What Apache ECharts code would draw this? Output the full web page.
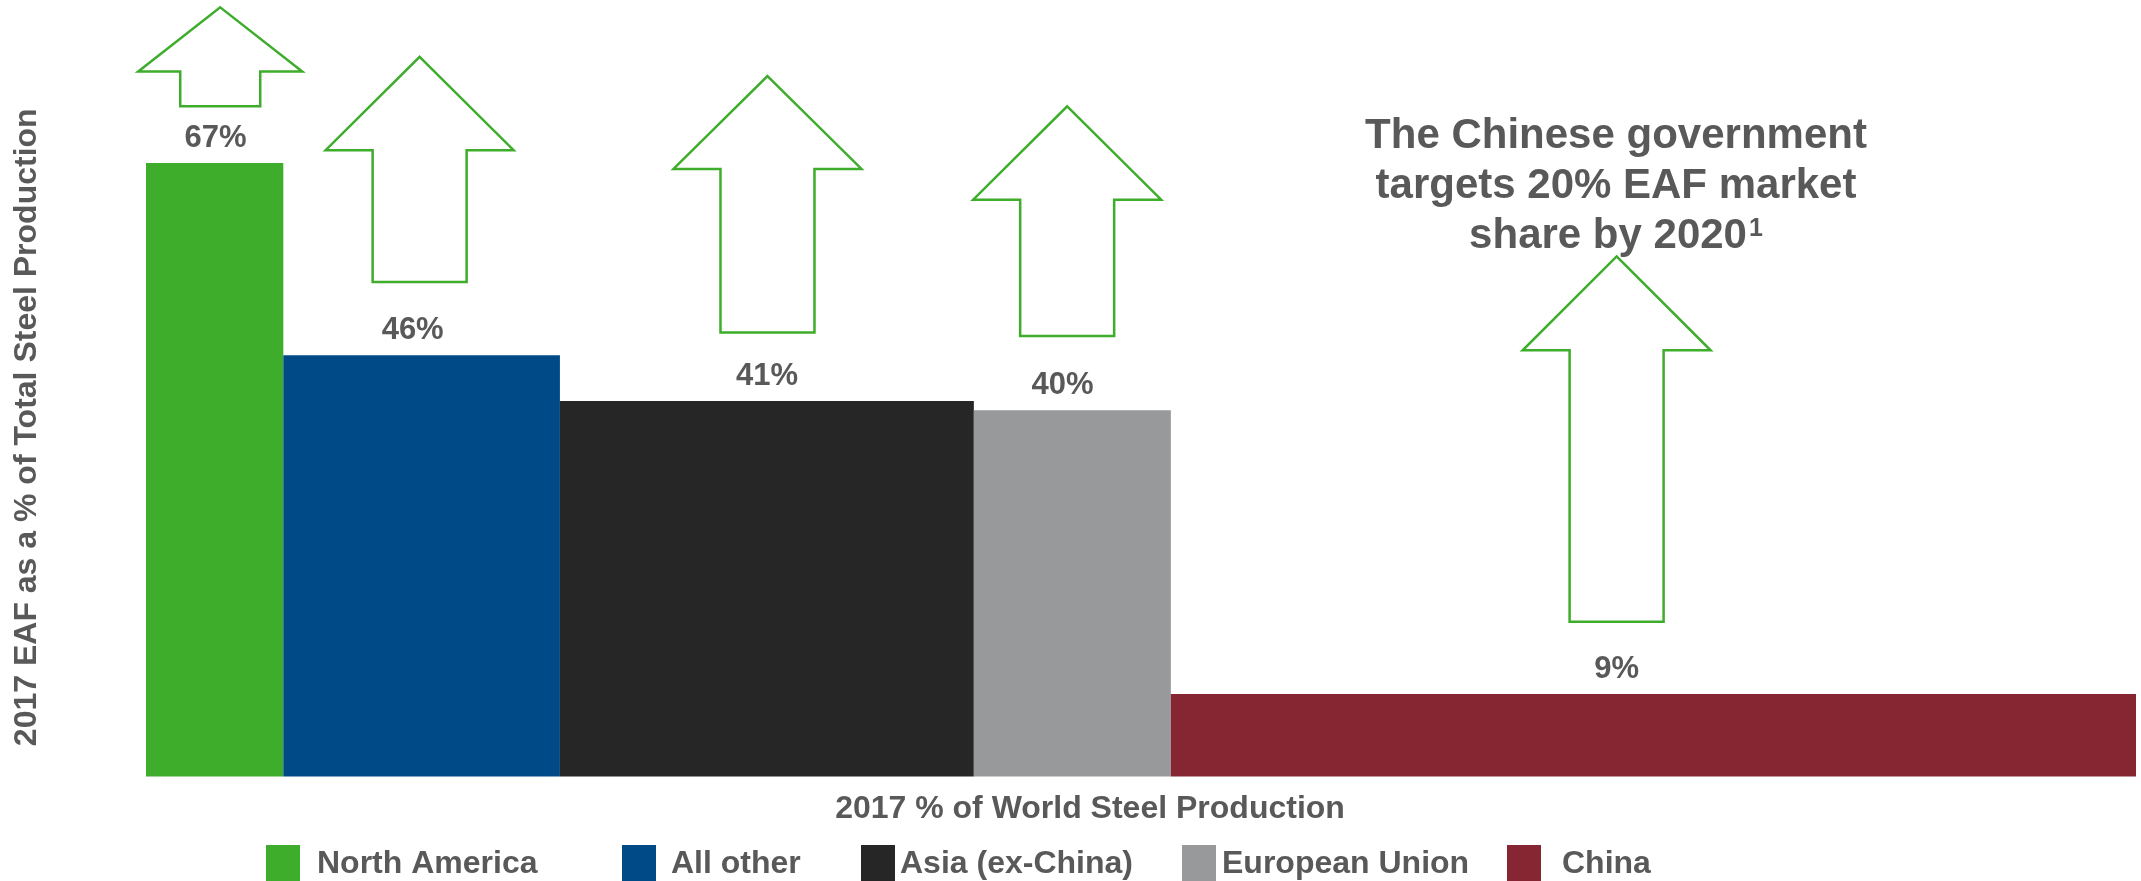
<!DOCTYPE html>
<html>
<head>
<meta charset="utf-8">
<script src="https://cdn.jsdelivr.net/npm/echarts@6/dist/echarts.min.js"></script>
<style>
  html, body { margin: 0; padding: 0; background: #ffffff; }
  #chart { width: 2141px; height: 881px; }
</style>
</head>
<body>
<div id="chart"></div>
<script>
// ---- data ----
const categories = ['North America', 'All other', 'Asia (ex-China)', 'European Union', 'China'];
const worldShare = [6.9, 13.9, 20.8, 9.9, 48.5];   // 2017 % of world steel production (bar widths)
const eafShare = [67, 46, 41, 40, 9];               // 2017 EAF as % of total steel production (bar heights)
const xAxisTitle = '2017 % of World Steel Production';
const yAxisTitle = '2017 EAF as a % of Total Steel Production';
const noteLines = ['The Chinese government', 'targets 20% EAF market', 'share by 2020'];
const noteFootnote = '1';

// ---- styles ----
const barColors = ['#3dad2b', '#004a87', '#262626', '#98999b', '#862633'];
const textColor = '#595959';
const arrowColor = '#3dad2b';
const FONT = '"Liberation Sans", Arial, Helvetica, sans-serif';

// annotation placement (in axis data units) for the up-arrows and value labels
const labelAnchorX = [3.49, 13.40, 31.21, 46.06, 73.90];
const arrowSpec = [
  { cx: 3.73,  tip: 84.0, head: 77.0, bottom: 73.2, hw: 82, sw: 40 },
  { cx: 13.75, tip: 78.6, head: 68.4, bottom: 54.0, hw: 94, sw: 47 },
  { cx: 31.23, tip: 76.5, head: 66.35, bottom: 48.5, hw: 94, sw: 47 },
  { cx: 46.29, tip: 73.2, head: 63.0, bottom: 48.1, hw: 94, sw: 47 },
  { cx: 73.90, tip: 56.8, head: 46.55, bottom: 16.9, hw: 94, sw: 47 }
];
const legendLeft = [266, 622, 861, 1182, 1507];
const legendTextPad = [12, 10, 0, 1, 16];

// ---- build ----
const starts = [];
let acc = 0;
worldShare.forEach(w => { starts.push(acc); acc += w; });
const totalShare = acc;

function renderBar(params, api) {
  const p0 = api.coord([api.value(0), 0]);
  const p1 = api.coord([api.value(1), api.value(2)]);
  return {
    type: 'rect',
    shape: { x: p0[0], y: p1[1], width: p1[0] - p0[0], height: p0[1] - p1[1] },
    style: api.style()
  };
}

const barSeries = categories.map((name, i) => ({
  name: name,
  type: 'custom',
  renderItem: renderBar,
  itemStyle: { color: barColors[i] },
  encode: { x: [0, 1], y: 2 },
  clip: false,
  data: [[starts[i], starts[i] + worldShare[i], eafShare[i]]]
}));

const labelSeries = {
  name: 'labels',
  type: 'custom',
  clip: false,
  silent: true,
  encode: { x: 0, y: 1 },
  data: eafShare.map((v, i) => [labelAnchorX[i], v]),
  renderItem: function (params, api) {
    const p = api.coord([api.value(0), api.value(1)]);
    return {
      type: 'text',
      x: p[0],
      y: p[1] - 9,
      style: {
        text: api.value(1) + '%',
        fill: textColor,
        font: 'bold 31px ' + FONT,
        align: 'center',
        verticalAlign: 'bottom'
      }
    };
  }
};

const arrowSeries = {
  name: 'arrows',
  type: 'custom',
  clip: false,
  silent: true,
  encode: { x: 0, y: 1 },
  data: arrowSpec.map(a => [a.cx, a.tip, a.head, a.bottom, a.hw, a.sw]),
  renderItem: function (params, api) {
    const cx = api.coord([api.value(0), 0])[0];
    const tipY = api.coord([0, api.value(1)])[1];
    const headY = api.coord([0, api.value(2)])[1];
    const botY = api.coord([0, api.value(3)])[1];
    const hw = api.value(4), sw = api.value(5);
    return {
      type: 'polygon',
      shape: {
        points: [
          [cx, tipY], [cx + hw, headY], [cx + sw, headY], [cx + sw, botY],
          [cx - sw, botY], [cx - sw, headY], [cx - hw, headY]
        ]
      },
      style: { fill: '#ffffff', stroke: arrowColor, lineWidth: 2.5, lineJoin: 'miter' }
    };
  }
};

const option = {
  animation: false,
  backgroundColor: '#ffffff',
  grid: { left: 146, right: 5, top: 44, bottom: 104.5 },
  xAxis: {
    type: 'value',
    min: 0,
    max: totalShare,
    name: xAxisTitle,
    nameLocation: 'middle',
    nameGap: 17,
    nameTextStyle: {
      color: textColor, fontSize: 32, fontWeight: 'bold', fontFamily: FONT,
      padding: [0, 102, 0, 0]
    },
    axisLine: { show: false },
    axisTick: { show: false },
    axisLabel: { show: false },
    splitLine: { show: false }
  },
  yAxis: {
    type: 'value',
    min: 0,
    max: 80,
    name: yAxisTitle,
    nameLocation: 'middle',
    nameGap: 103,
    nameTextStyle: {
      color: textColor, fontSize: 32, fontWeight: 'bold', fontFamily: FONT,
      padding: [0, 34, 0, 0]
    },
    axisLine: { show: false },
    axisTick: { show: false },
    axisLabel: { show: false },
    splitLine: { show: false }
  },
  legend: categories.map((name, i) => ({
    data: [name],
    left: legendLeft[i],
    top: 845,
    padding: 0,
    icon: 'rect',
    itemWidth: 34,
    itemHeight: 38,
    selectedMode: false,
    textStyle: {
      color: textColor, fontSize: 32, fontWeight: 'bold', fontFamily: FONT,
      padding: [0, 0, 0, legendTextPad[i]]
    }
  })),
  graphic: [{
    type: 'text',
    x: 1616,
    y: 111,
    silent: true,
    style: {
      text: noteLines.join('\n') + '{sup|' + noteFootnote + '}',
      fill: textColor,
      font: 'bold 42px ' + FONT,
      lineHeight: 50,
      align: 'center',
      verticalAlign: 'top',
      rich: {
        sup: {
          fontSize: 25, fontWeight: 'bold', fontFamily: FONT, fill: textColor,
          lineHeight: 25, verticalAlign: 'top', padding: [6, 0, 0, 2]
        }
      }
    }
  }],
  series: barSeries.concat([labelSeries, arrowSeries])
};

const chart = echarts.init(document.getElementById('chart'), null, { renderer: 'canvas' });
chart.setOption(option);
</script>
</body>
</html>
